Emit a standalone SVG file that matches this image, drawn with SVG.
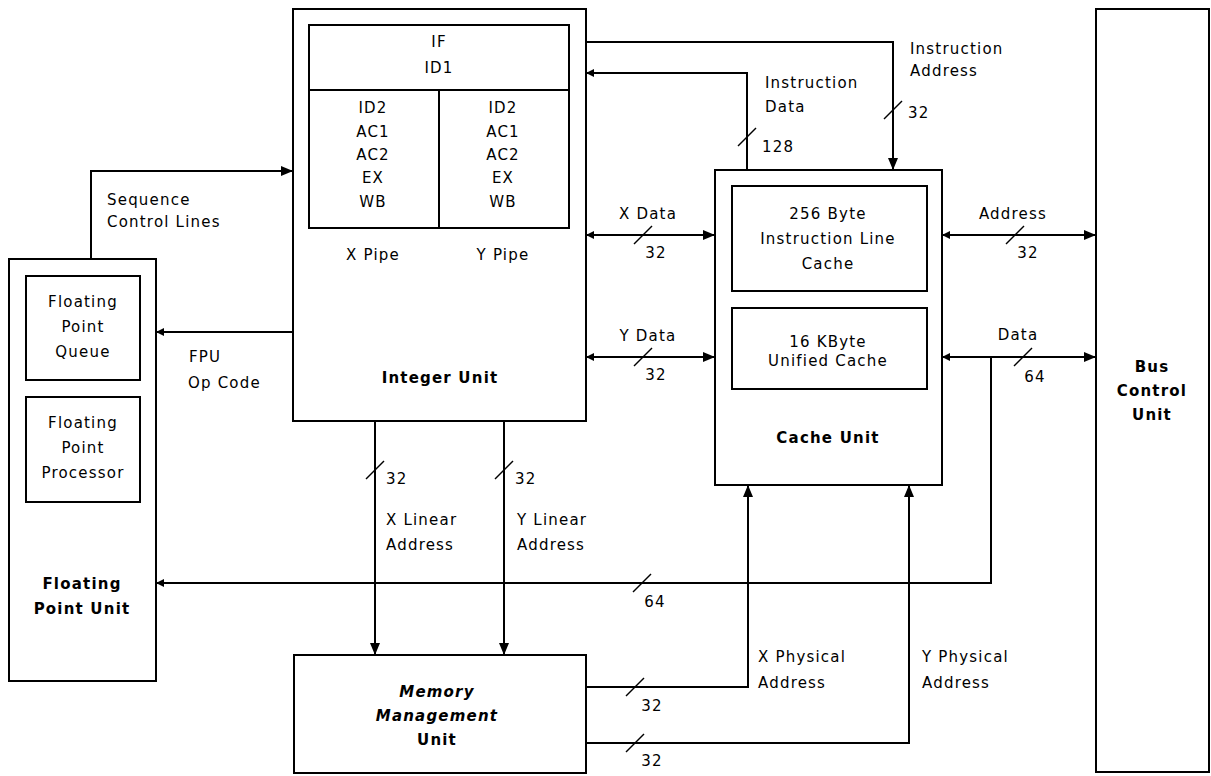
<svg xmlns="http://www.w3.org/2000/svg" width="1211" height="776" viewBox="0 0 1211 776">
<defs>
<style>
.box{fill:none;stroke:#000;stroke-width:2}
.ln{fill:none;stroke:#000;stroke-width:2}
.sl{stroke:#000;stroke-width:1.5}
text{font-family:"DejaVu Sans","Liberation Sans",sans-serif;font-size:15px;letter-spacing:1.2px;fill:#000}
.c{text-anchor:middle}
.b{font-weight:bold}
</style>
<marker id="big" markerUnits="userSpaceOnUse" markerWidth="12" markerHeight="10" refX="12" refY="5" orient="auto-start-reverse"><path d="M0,0 L12,5 L0,10 z" fill="#000"/></marker>
<marker id="sm" markerUnits="userSpaceOnUse" markerWidth="8" markerHeight="8" refX="8" refY="4" orient="auto-start-reverse"><path d="M0,0 L8,4 L0,8 z" fill="#000"/></marker>
</defs>
<rect width="1211" height="776" fill="#fff"/>

<g id="connectors">
<path class="ln" d="M586,42 H893 V170" marker-end="url(#big)"/>
<line class="sl" x1="884" y1="119" x2="902" y2="101"/>
<path class="ln" d="M747,170 V73 H586" marker-end="url(#sm)"/>
<line class="sl" x1="738" y1="146" x2="756" y2="128"/>
<path class="ln" d="M586,235 H715" marker-start="url(#sm)" marker-end="url(#big)"/>
<line class="sl" x1="634" y1="244" x2="652" y2="226"/>
<path class="ln" d="M586,357 H715" marker-start="url(#sm)" marker-end="url(#big)"/>
<line class="sl" x1="634" y1="366" x2="652" y2="348"/>
<path class="ln" d="M942,235 H1096" marker-start="url(#sm)" marker-end="url(#big)"/>
<line class="sl" x1="1006" y1="244" x2="1024" y2="226"/>
<path class="ln" d="M942,357 H1096" marker-start="url(#sm)" marker-end="url(#big)"/>
<line class="sl" x1="1014" y1="366" x2="1032" y2="348"/>
<path class="ln" d="M991,357 V583 H156" marker-end="url(#sm)"/>
<line class="sl" x1="633" y1="592" x2="651" y2="574"/>
<path class="ln" d="M91,259 V171 H293" marker-end="url(#big)"/>
<path class="ln" d="M293,332 H156" marker-end="url(#sm)"/>
<path class="ln" d="M375,421 V655" marker-end="url(#big)"/>
<line class="sl" x1="366" y1="479" x2="384" y2="461"/>
<path class="ln" d="M504,421 V655" marker-end="url(#big)"/>
<line class="sl" x1="495" y1="479" x2="513" y2="461"/>
<path class="ln" d="M586,687 H748 V485" marker-end="url(#big)"/>
<line class="sl" x1="626" y1="696" x2="644" y2="678"/>
<path class="ln" d="M586,743 H909 V485" marker-end="url(#big)"/>
<line class="sl" x1="626" y1="752" x2="644" y2="734"/>

<text x="910" y="54">Instruction</text>
<text x="910" y="76">Address</text>
<text x="908" y="118">32</text>
<text x="765" y="88">Instruction</text>
<text x="765" y="112">Data</text>
<text x="762" y="152">128</text>
<text class="c" x="648" y="219">X Data</text>
<text class="c" x="656" y="258">32</text>
<text class="c" x="648" y="341">Y Data</text>
<text class="c" x="656" y="380">32</text>
<text class="c" x="1013" y="219">Address</text>
<text class="c" x="1028" y="258">32</text>
<text class="c" x="1018" y="340">Data</text>
<text class="c" x="1035" y="382">64</text>
<text x="107" y="205">Sequence</text>
<text x="107" y="227">Control Lines</text>
<text x="189" y="362">FPU</text>
<text x="188" y="388">Op Code</text>
<text x="386" y="484">32</text>
<text x="515" y="484">32</text>
<text x="386" y="525">X Linear</text>
<text x="386" y="550">Address</text>
<text x="517" y="525">Y Linear</text>
<text x="517" y="550">Address</text>
<text class="c" x="655" y="607">64</text>
<text x="758" y="662">X Physical</text>
<text x="758" y="688">Address</text>
<text x="922" y="662">Y Physical</text>
<text x="922" y="688">Address</text>
<text class="c" x="652" y="711">32</text>
<text class="c" x="652" y="766">32</text>
</g>

<g id="integer-unit">
<rect class="box" x="293" y="9" width="293" height="412"/>
<rect class="box" x="309" y="25" width="260" height="203"/>
<line class="ln" x1="309" y1="90" x2="569" y2="90"/>
<line class="ln" x1="439" y1="90" x2="439" y2="228"/>
<text class="c" x="439" y="47">IF</text>
<text class="c" x="439" y="73">ID1</text>
<text class="c" x="373" y="113">ID2</text>
<text class="c" x="373" y="137">AC1</text>
<text class="c" x="373" y="160">AC2</text>
<text class="c" x="373" y="183">EX</text>
<text class="c" x="373" y="207">WB</text>
<text class="c" x="503" y="113">ID2</text>
<text class="c" x="503" y="137">AC1</text>
<text class="c" x="503" y="160">AC2</text>
<text class="c" x="503" y="183">EX</text>
<text class="c" x="503" y="207">WB</text>
<text class="c" x="373" y="260">X Pipe</text>
<text class="c" x="503" y="260">Y Pipe</text>
<text class="c b" x="440" y="383">Integer Unit</text>
</g>

<g id="cache-unit">
<rect class="box" x="715" y="170" width="227" height="315"/>
<rect class="box" x="732" y="186" width="195" height="105"/>
<rect class="box" x="732" y="308" width="195" height="81"/>
<text class="c" x="828" y="219">256 Byte</text>
<text class="c" x="828" y="244">Instruction Line</text>
<text class="c" x="828" y="269">Cache</text>
<text class="c" x="828" y="347">16 KByte</text>
<text class="c" x="828" y="366">Unified Cache</text>
<text class="c b" x="828" y="443">Cache Unit</text>
</g>

<g id="bus-control-unit">
<rect class="box" x="1096" y="9" width="113" height="763"/>
<text class="c b" x="1152" y="372">Bus</text>
<text class="c b" x="1152" y="396">Control</text>
<text class="c b" x="1152" y="420">Unit</text>
</g>

<g id="floating-point-unit">
<rect class="box" x="9" y="259" width="147" height="422"/>
<rect class="box" x="26" y="276" width="114" height="104"/>
<rect class="box" x="26" y="397" width="114" height="105"/>
<text class="c" x="83" y="307">Floating</text>
<text class="c" x="83" y="332">Point</text>
<text class="c" x="83" y="357">Queue</text>
<text class="c" x="83" y="428">Floating</text>
<text class="c" x="83" y="453">Point</text>
<text class="c" x="83" y="478">Processor</text>
<text class="c b" x="82" y="589">Floating</text>
<text class="c b" x="82" y="614">Point Unit</text>
</g>

<g id="memory-management-unit">
<rect class="box" x="294" y="655" width="292" height="118"/>
<text class="c b" x="437" y="697" font-style="italic">Memory</text>
<text class="c b" x="437" y="721" font-style="italic">Management</text>
<text class="c b" x="437" y="745">Unit</text>
</g>
</svg>
